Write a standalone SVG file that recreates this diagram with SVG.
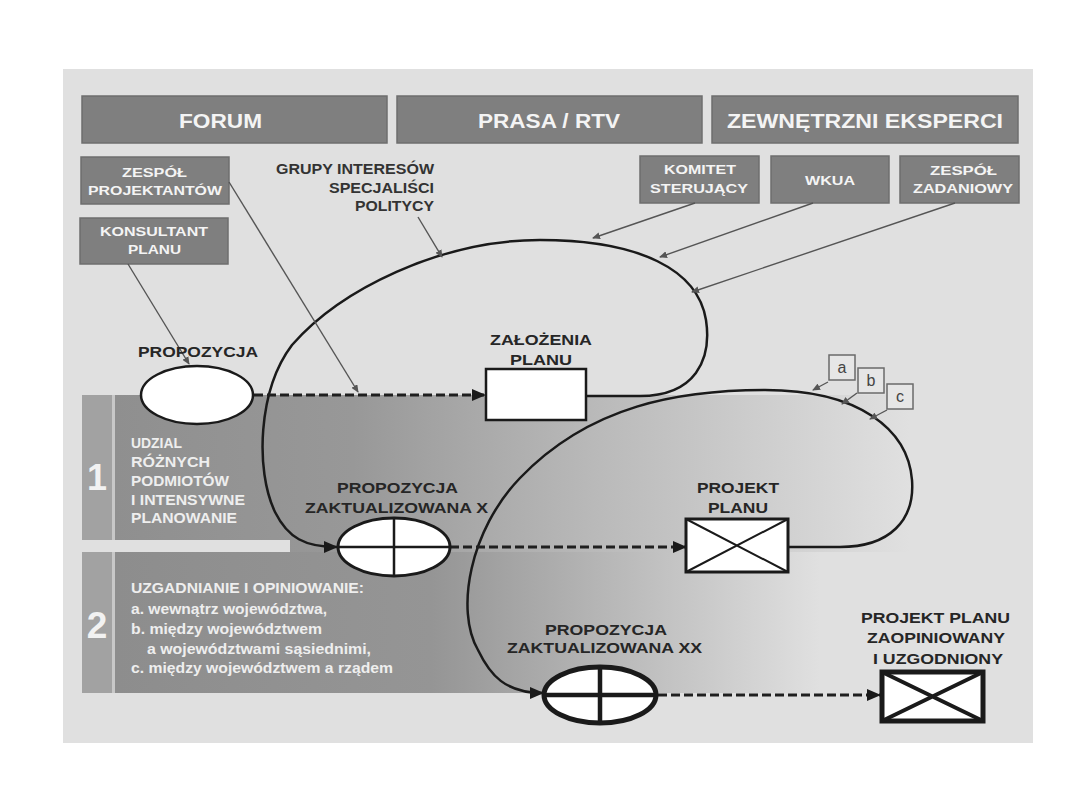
<svg xmlns="http://www.w3.org/2000/svg" width="1080" height="810" viewBox="0 0 1080 810">
<defs>
<style>
.t{font-family:"Liberation Sans",Arial,sans-serif;font-weight:bold}
.hdr{fill:#7f7f7f;stroke:#6e6e6e;stroke-width:1.5}
.wh{fill:#f4f4f4}
.dk{fill:#262626}
.bt{fill:#eeeeee}
.loop{fill:none;stroke:#1a1a1a;stroke-width:2.5}
.dash{fill:none;stroke:#1f1f1f;stroke-width:3;stroke-dasharray:9 4}
.thin{fill:none;stroke:#555;stroke-width:1.4}
.node{fill:#fff;stroke:#1a1a1a}
</style>
<marker id="ah" markerWidth="14" markerHeight="12" refX="13" refY="6" orient="auto" markerUnits="userSpaceOnUse"><path d="M0,0 L14,6 L0,12 z" fill="#1a1a1a"/></marker>
<marker id="sa" markerWidth="8" markerHeight="7" refX="7" refY="3.5" orient="auto" markerUnits="userSpaceOnUse"><path d="M0,0 L8,3.5 L0,7 z" fill="#555"/></marker>
<linearGradient id="g1" gradientUnits="userSpaceOnUse" x1="115" y1="0" x2="910" y2="0">
<stop offset="0" stop-color="#8f8f8f"/><stop offset="0.3" stop-color="#989898"/><stop offset="0.6" stop-color="#b9b9b9"/><stop offset="1" stop-color="#e0e0e0"/>
</linearGradient>
<linearGradient id="g2" gradientUnits="userSpaceOnUse" x1="115" y1="0" x2="820" y2="0">
<stop offset="0" stop-color="#8d8d8d"/><stop offset="0.45" stop-color="#959595"/><stop offset="0.72" stop-color="#bababa"/><stop offset="1" stop-color="#e0e0e0"/>
</linearGradient>
</defs>
<rect x="0" y="0" width="1080" height="810" fill="#ffffff"/>
<rect x="63" y="69" width="970" height="674" fill="#e0e0e0"/>

<g id="stage1">
<rect x="82" y="395" width="30" height="145" fill="#a2a2a2"/>
<rect x="112" y="395" width="3" height="145" fill="#c8c8c8"/>
<rect x="115" y="395" width="900" height="145" fill="url(#g1)"/>
<rect x="290" y="540" width="725" height="12" fill="url(#g1)"/>
<text class="t" x="97" y="490" font-size="36" fill="#f2f2f2" text-anchor="middle" font-weight="normal">1</text>
<text class="t bt" font-size="15" x="131" y="448" textLength="51" lengthAdjust="spacingAndGlyphs">UDZIAL</text>
<text class="t bt" font-size="15" x="131" y="467" textLength="79" lengthAdjust="spacingAndGlyphs">RÓŻNYCH</text>
<text class="t bt" font-size="15" x="131" y="486" textLength="98" lengthAdjust="spacingAndGlyphs">PODMIOTÓW</text>
<text class="t bt" font-size="15" x="131" y="505" textLength="114" lengthAdjust="spacingAndGlyphs">I INTENSYWNE</text>
<text class="t bt" font-size="15" x="131" y="523" textLength="106" lengthAdjust="spacingAndGlyphs">PLANOWANIE</text>
</g>

<g id="stage2">
<rect x="82" y="552" width="30" height="141" fill="#a2a2a2"/>
<rect x="112" y="552" width="3" height="141" fill="#c8c8c8"/>
<rect x="115" y="552" width="900" height="141" fill="url(#g2)"/>
<text class="t" x="97" y="638" font-size="37" fill="#f2f2f2" text-anchor="middle">2</text>
<text class="t bt" font-size="15" x="131" y="593" textLength="233" lengthAdjust="spacingAndGlyphs">UZGADNIANIE I OPINIOWANIE:</text>
<text class="t bt" font-size="15.5" x="131" y="614" textLength="196" lengthAdjust="spacingAndGlyphs">a. wewnątrz województwa,</text>
<text class="t bt" font-size="15.5" x="131" y="634" textLength="191" lengthAdjust="spacingAndGlyphs">b. między województwem</text>
<text class="t bt" font-size="15.5" x="147" y="654" textLength="224" lengthAdjust="spacingAndGlyphs">a województwami sąsiednimi,</text>
<text class="t bt" font-size="15.5" x="131" y="673" textLength="262" lengthAdjust="spacingAndGlyphs">c. między województwem a rządem</text>
</g>

<g id="forum">
<rect class="hdr" x="82" y="96" width="305" height="47"/>
<text class="t wh" font-size="21" x="179" y="128" textLength="83" lengthAdjust="spacingAndGlyphs">FORUM</text>
</g>
<g id="prasa">
<rect class="hdr" x="397" y="96" width="305" height="47"/>
<text class="t wh" font-size="21" x="478" y="128" textLength="142" lengthAdjust="spacingAndGlyphs">PRASA / RTV</text>
</g>
<g id="eksperci">
<rect class="hdr" x="712" y="96" width="306" height="47"/>
<text class="t wh" font-size="21" x="727" y="128" textLength="276" lengthAdjust="spacingAndGlyphs">ZEWNĘTRZNI  EKSPERCI</text>
</g>

<g id="zespol-projektantow">
<rect class="hdr" x="81" y="157" width="148" height="47"/>
<text class="t wh" font-size="12.5" x="122" y="177" textLength="65" lengthAdjust="spacingAndGlyphs">ZESPÓŁ</text>
<text class="t wh" font-size="12.5" x="88" y="195" textLength="134" lengthAdjust="spacingAndGlyphs">PROJEKTANTÓW</text>
</g>
<g id="konsultant">
<rect class="hdr" x="80" y="218" width="148" height="46"/>
<text class="t wh" font-size="12.5" x="100" y="236" textLength="108" lengthAdjust="spacingAndGlyphs">KONSULTANT</text>
<text class="t wh" font-size="12.5" x="128" y="254" textLength="53" lengthAdjust="spacingAndGlyphs">PLANU</text>
</g>
<g id="komitet">
<rect class="hdr" x="640" y="156" width="119" height="47"/>
<text class="t wh" font-size="12.5" x="664" y="174" textLength="72" lengthAdjust="spacingAndGlyphs">KOMITET</text>
<text class="t wh" font-size="12.5" x="650" y="193" textLength="98" lengthAdjust="spacingAndGlyphs">STERUJĄCY</text>
</g>
<g id="wkua">
<rect class="hdr" x="771" y="156" width="118" height="47"/>
<text class="t wh" font-size="12.5" x="805" y="185" textLength="50" lengthAdjust="spacingAndGlyphs">WKUA</text>
</g>
<g id="zespol-zadaniowy">
<rect class="hdr" x="900" y="156" width="119" height="47"/>
<text class="t wh" font-size="12.5" x="930" y="175" textLength="67" lengthAdjust="spacingAndGlyphs">ZESPÓŁ</text>
<text class="t wh" font-size="12.5" x="913" y="193" textLength="100" lengthAdjust="spacingAndGlyphs">ZADANIOWY</text>
</g>

<g id="grupy">
<text class="t" fill="#333" font-size="14" x="276" y="174" textLength="158" lengthAdjust="spacingAndGlyphs">GRUPY INTERESÓW</text>
<text class="t" fill="#333" font-size="14" x="329" y="193" textLength="105" lengthAdjust="spacingAndGlyphs">SPECJALIŚCI</text>
<text class="t" fill="#333" font-size="14" x="355" y="211" textLength="79" lengthAdjust="spacingAndGlyphs">POLITYCY</text>
</g>

<g id="connectors">
<path class="loop" d="M586 396 H640 C695 396 712 360 706 320 C698 270 640 240 540 240 C440 240 340 290 292 345 C258 390 255 470 275 512 C288 538 305 547 337 547" marker-end="url(#ah)"/>
<path class="loop" d="M788 547 H840 C890 547 915 520 912 480 C908 430 860 390 765 390 C680 390 590 405 520 478 C470 530 455 610 478 650 C490 675 505 693 543 693" marker-end="url(#ah)"/>
<path class="dash" d="M254 395 H485" marker-end="url(#ah)"/>
<path class="dash" d="M450 547 H686" marker-end="url(#ah)"/>
<path class="dash" d="M658 695 H880" marker-end="url(#ah)"/>
<path class="thin" d="M229 182 L358 392" marker-end="url(#sa)"/>
<path class="thin" d="M128 264 L189 364" marker-end="url(#sa)"/>
<path class="thin" d="M418 217 L442 257" marker-end="url(#sa)"/>
<path class="thin" d="M695 203 L593 238" marker-end="url(#sa)"/>
<path class="thin" d="M813 203 L660 257" marker-end="url(#sa)"/>
<path class="thin" d="M955 203 L692 292" marker-end="url(#sa)"/>
<path class="thin" d="M828 382 L813 390" marker-end="url(#sa)"/>
<path class="thin" d="M857 393 L842 404" marker-end="url(#sa)"/>
<path class="thin" d="M887 410 L870 419" marker-end="url(#sa)"/>
</g>

<g id="propozycja">
<ellipse class="node" cx="197" cy="395" rx="56" ry="29" stroke-width="2.5"/>
<text class="t dk" font-size="15" x="138" y="357" textLength="120" lengthAdjust="spacingAndGlyphs">PROPOZYCJA</text>
</g>
<g id="zalozenia">
<rect class="node" x="486" y="369" width="100" height="51" stroke-width="2.5"/>
<text class="t dk" font-size="15" x="490" y="345" textLength="102" lengthAdjust="spacingAndGlyphs">ZAŁOŻENIA</text>
<text class="t dk" font-size="15" x="510" y="365" textLength="62" lengthAdjust="spacingAndGlyphs">PLANU</text>
</g>
<g id="propozycja-x">
<ellipse class="node" cx="394" cy="547" rx="56" ry="29" stroke-width="3"/>
<path d="M394 518 V576 M338 547 H450" stroke="#1a1a1a" stroke-width="2.5"/>
<text class="t dk" font-size="15" x="337" y="493" textLength="121" lengthAdjust="spacingAndGlyphs">PROPOZYCJA</text>
<text class="t dk" font-size="15" x="305" y="513" textLength="183" lengthAdjust="spacingAndGlyphs">ZAKTUALIZOWANA X</text>
</g>
<g id="projekt-planu">
<rect class="node" x="686" y="519" width="102" height="53" stroke-width="3"/>
<path d="M686 519 L788 572 M788 519 L686 572" stroke="#1a1a1a" stroke-width="2"/>
<text class="t dk" font-size="15" x="697" y="493" textLength="82" lengthAdjust="spacingAndGlyphs">PROJEKT</text>
<text class="t dk" font-size="15" x="708" y="513" textLength="60" lengthAdjust="spacingAndGlyphs">PLANU</text>
</g>
<g id="propozycja-xx">
<ellipse class="node" cx="600" cy="695" rx="56" ry="28" stroke-width="5"/>
<path d="M600 667 V723 M544 695 H656" stroke="#1a1a1a" stroke-width="4.5"/>
<text class="t dk" font-size="15" x="545" y="635" textLength="122" lengthAdjust="spacingAndGlyphs">PROPOZYCJA</text>
<text class="t dk" font-size="15" x="507" y="653" textLength="195" lengthAdjust="spacingAndGlyphs">ZAKTUALIZOWANA XX</text>
</g>
<g id="projekt-final">
<rect class="node" x="882" y="672" width="101" height="49" stroke-width="5"/>
<path d="M882 672 L983 721 M983 672 L882 721" stroke="#1a1a1a" stroke-width="4"/>
<text class="t dk" font-size="15" x="861" y="623" textLength="149" lengthAdjust="spacingAndGlyphs">PROJEKT PLANU</text>
<text class="t dk" font-size="15" x="867" y="643" textLength="138" lengthAdjust="spacingAndGlyphs">ZAOPINIOWANY</text>
<text class="t dk" font-size="15" x="873" y="664" textLength="130" lengthAdjust="spacingAndGlyphs">I UZGODNIONY</text>
</g>

<g id="box-a">
<rect x="829" y="355" width="26" height="25" fill="#e6e6e6" stroke="#6a6a6a" stroke-width="1.5"/>
<text x="842" y="373" font-family="Liberation Sans, Arial, sans-serif" font-size="16" fill="#444" text-anchor="middle">a</text>
</g>
<g id="box-b">
<rect x="858" y="368" width="26" height="25" fill="#e6e6e6" stroke="#6a6a6a" stroke-width="1.5"/>
<text x="871" y="386" font-family="Liberation Sans, Arial, sans-serif" font-size="16" fill="#444" text-anchor="middle">b</text>
</g>
<g id="box-c">
<rect x="887" y="384" width="26" height="25" fill="#e6e6e6" stroke="#6a6a6a" stroke-width="1.5"/>
<text x="900" y="402" font-family="Liberation Sans, Arial, sans-serif" font-size="16" fill="#444" text-anchor="middle">c</text>
</g>
</svg>
